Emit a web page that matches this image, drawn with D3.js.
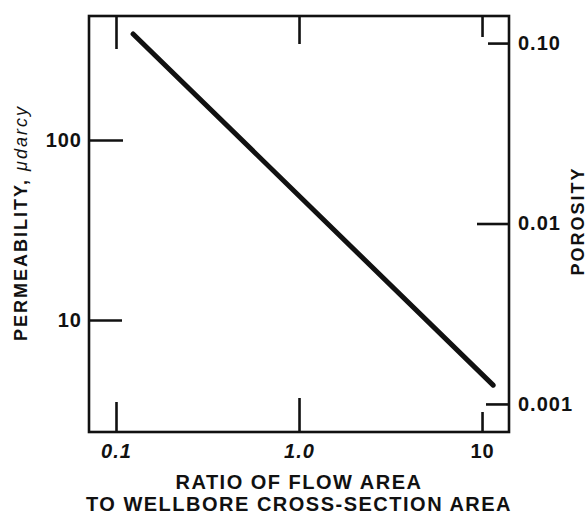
<!DOCTYPE html>
<html>
<head>
<meta charset="utf-8">
<script src="https://cdn.jsdelivr.net/npm/d3@7"></script>
<style>
  html, body { margin: 0; padding: 0; background: #fff; }
  svg { display: block; }
  text { font-family: "Liberation Sans", Arial, Helvetica, sans-serif; fill: #111; }
</style>
</head>
<body>
<svg id="chart" width="587" height="516"></svg>
<script>
// ---- data ----
const ratioTicks = [0.1, 1, 10];
const ratioTickLabels = ["0.1", "1.0", "10"];
const permTicks = [10, 100];
const permTickLabels = ["10", "100"];
const porosityTicks = [0.1, 0.01, 0.001];
const porosityTickLabels = ["0.10", "0.01", "0.001"];
// line endpoints (ratio of flow area, permeability in microdarcy)
const lineRatio = [0.124, 11.5];
const linePerm = [388, 4.35];
const ratioDomain = [0.0712, 14.04];
const permDomain = [2.39, 488];
const porosityDomain = [0.000699, 0.1413];
const xTitleLines = ["RATIO OF FLOW AREA", "TO WELLBORE CROSS-SECTION AREA"];
const yTitle = "PERMEABILITY, ";
const yTitleUnit = "\u03bcdarcy";
const y2Title = "POROSITY";

// ---- layout ----
const L = 89, R = 509, T = 16, B = 432;
const ink = "#111";
const svg = d3.select("#chart");

const x = d3.scaleLog().domain(ratioDomain).range([L, R]);
const y = d3.scaleLog().domain(permDomain).range([B, T]);
const y2 = d3.scaleLog().domain(porosityDomain).range([B, T]);

// frame
svg.append("rect")
  .attr("x", L).attr("y", T).attr("width", R - L).attr("height", B - T)
  .attr("fill", "none").attr("stroke", ink).attr("stroke-width", 2.6);

// tick lengths (hand-drawn look)
const topLen = [33, 28, 21];
const botLen = [30, 34, 20];
const leftLen = [33, 34];
const rightLen = [21, 32, 23];

function styleAxis(g, font, italicIdx) {
  g.select(".domain").remove();
  g.selectAll(".tick line").attr("stroke", ink).attr("stroke-width", 2.6);
  g.selectAll(".tick text")
    .attr("font-size", font).attr("font-weight", "bold")
    .style("letter-spacing", "1px").attr("fill", ink)
    .attr("font-style", (d, i) => (italicIdx && italicIdx.includes(i)) ? "italic" : "normal");
}

// bottom axis with labels
const gB = svg.append("g").attr("transform", `translate(0,${B})`)
  .call(d3.axisBottom(x).tickValues(ratioTicks)
    .tickFormat((d, i) => ratioTickLabels[i]).tickSize(0).tickPadding(12));
styleAxis(gB, 20, [0, 1]);
gB.selectAll(".tick line").attr("y2", (d, i) => -botLen[i]);

// top axis ticks (no labels)
const gT = svg.append("g").attr("transform", `translate(0,${T})`)
  .call(d3.axisTop(x).tickValues(ratioTicks).tickFormat(() => "").tickSize(0));
styleAxis(gT, 20);
gT.selectAll(".tick line").attr("y2", (d, i) => topLen[i]);

// left axis
const gL = svg.append("g").attr("transform", `translate(${L},0)`)
  .call(d3.axisLeft(y).tickValues(permTicks)
    .tickFormat((d, i) => permTickLabels[i]).tickSize(0).tickPadding(7));
styleAxis(gL, 20);
gL.selectAll(".tick line").attr("x2", (d, i) => leftLen[i]);

// right axis
const gR = svg.append("g").attr("transform", `translate(${R},0)`)
  .call(d3.axisRight(y2).tickValues(porosityTicks)
    .tickFormat((d, i) => porosityTickLabels[i]).tickSize(0).tickPadding(9));
styleAxis(gR, 20);
gR.selectAll(".tick line").attr("x2", (d, i) => -rightLen[i]);

// data line
const pts = lineRatio.map((r, i) => [r, linePerm[i]]);
svg.append("path")
  .datum(pts)
  .attr("d", d3.line().x(d => x(d[0])).y(d => y(d[1])))
  .attr("fill", "none").attr("stroke", ink)
  .attr("stroke-width", 5).attr("stroke-linecap", "round");

// x title
svg.append("g").selectAll("text").data(xTitleLines).join("text")
  .attr("x", (L + R) / 2).attr("y", (d, i) => 489 + i * 22)
  .attr("text-anchor", "middle").attr("font-size", 20).attr("font-weight", "bold")
  .style("letter-spacing", "1.5px")
  .text(d => d);

// left title
const yt = svg.append("text")
  .attr("transform", "translate(27,223) rotate(-90)")
  .attr("text-anchor", "middle").attr("font-size", 18).attr("font-weight", "bold")
  .style("letter-spacing", "2px");
yt.append("tspan").text(yTitle);
yt.append("tspan").attr("font-style", "italic").attr("font-weight", "normal").text(yTitleUnit);

// right title
svg.append("text")
  .attr("transform", "translate(584,221) rotate(-90)")
  .attr("text-anchor", "middle").attr("font-size", 18).attr("font-weight", "bold")
  .style("letter-spacing", "2px")
  .text(y2Title);
</script>
</body>
</html>
